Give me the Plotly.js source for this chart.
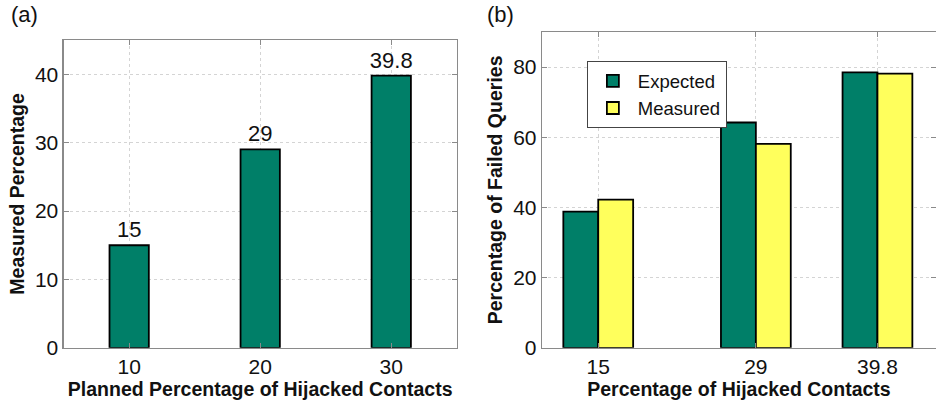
<!DOCTYPE html>
<html>
<head>
<meta charset="utf-8">
<script src="https://cdn.plot.ly/plotly-3.0.1.min.js"></script>
<style>html,body{margin:0;padding:0;background:#fff}#chart{width:936px;height:404px}</style>
</head>
<body>
<div id="chart"></div>
<script>
// Panel (a)
const plannedPct = [10, 20, 30];
const measuredPct = [15, 29, 39.8];
const measuredLabels = ['15', '29', '39.8'];
// Panel (b)
const hijackedPct = [15, 29, 39.8];
const hijackedLabels = ['15', '29', '39.8'];
const expectedFailed = [38.8, 64.2, 78.5];
const measuredFailed = [42.2, 58.1, 78.1];

const green = '#007f68';
const yellow = '#ffff5c';
const FONT = 'Liberation Sans, Arial, sans-serif';

const traces = [
  {
    type: 'bar', x: plannedPct, y: measuredPct, xaxis: 'x', yaxis: 'y',
    width: 3, marker: {color: green, line: {color: '#000', width: 1.8}},
    text: measuredLabels, textposition: 'outside', texttemplate: '%{text}',
    constraintext: 'none',
    textfont: {family: FONT, size: 22, color: '#111'}, cliponaxis: false,
    showlegend: false, hoverinfo: 'skip'
  },
  {
    type: 'bar', name: 'Expected', x: hijackedPct, y: expectedFailed, xaxis: 'x2', yaxis: 'y2',
    width: 3.1, offset: -3.1, marker: {color: green, line: {color: '#000', width: 1.8}},
    hoverinfo: 'skip'
  },
  {
    type: 'bar', name: 'Measured', x: hijackedPct, y: measuredFailed, xaxis: 'x2', yaxis: 'y2',
    width: 3.1, offset: 0, marker: {color: yellow, line: {color: '#000', width: 1.8}},
    hoverinfo: 'skip'
  }
];

const axCommon = {
  showline: true, linecolor: '#8a8a8a', linewidth: 1.2, mirror: 'ticks',
  ticks: 'inside', ticklen: 5, tickcolor: '#8a8a8a',
  showgrid: true, gridcolor: '#d4d4d4', griddash: 'dot', gridwidth: 1,
  zeroline: false, tickfont: {family: FONT, size: 21, color: '#111'}
};
const titleFont = {family: FONT, size: 19.5, color: '#111', weight: 'bold'};

const layout = {
  width: 936, height: 404,
  margin: {l: 0, r: 0, t: 0, b: 0},
  paper_bgcolor: '#fff', plot_bgcolor: '#fff',
  barmode: 'overlay',
  font: {family: FONT},
  xaxis: Object.assign({}, axCommon, {
    domain: [0.068, 0.488], range: [5, 35], tickvals: plannedPct,
    ticktext: plannedPct.map(String), anchor: 'y',
    title: {text: 'Planned Percentage of Hijacked Contacts', font: titleFont, standoff: 0}
  }),
  yaxis: Object.assign({}, axCommon, {
    domain: [0.139, 0.901], range: [0, 45], tickvals: [0, 10, 20, 30, 40], anchor: 'x',
    title: {text: 'Measured Percentage', font: titleFont, standoff: 5}
  }),
  xaxis2: Object.assign({}, axCommon, {
    domain: [0.579, 1.0], range: [10, 45], tickvals: hijackedPct,
    ticktext: hijackedLabels, anchor: 'y2',
    title: {text: 'Percentage of Hijacked Contacts', font: titleFont, standoff: 0}
  }),
  yaxis2: Object.assign({}, axCommon, {
    domain: [0.139, 0.921], range: [0, 90], tickvals: [0, 20, 40, 60, 80], anchor: 'x2',
    title: {text: 'Percentage of Failed Queries', font: titleFont, standoff: 5}
  }),
  legend: {
    x: 0.627, y: 0.848, xanchor: 'left', yanchor: 'top',
    bgcolor: '#fff', bordercolor: '#444', borderwidth: 1,
    font: {family: FONT, size: 18.5, color: '#111'},
    itemwidth: 40, tracegroupgap: 0
  },
  annotations: [
    {text: '(a)', xref: 'paper', yref: 'paper', x: 0.01, y: 1.0, xanchor: 'left', yanchor: 'top',
     showarrow: false, font: {family: FONT, size: 22, color: '#111'}},
    {text: '(b)', xref: 'paper', yref: 'paper', x: 0.518, y: 1.0, xanchor: 'left', yanchor: 'top',
     showarrow: false, font: {family: FONT, size: 22, color: '#111'}}
  ]
};

Plotly.newPlot('chart', traces, layout, {staticPlot: true, displayModeBar: false});
</script>
</body>
</html>
